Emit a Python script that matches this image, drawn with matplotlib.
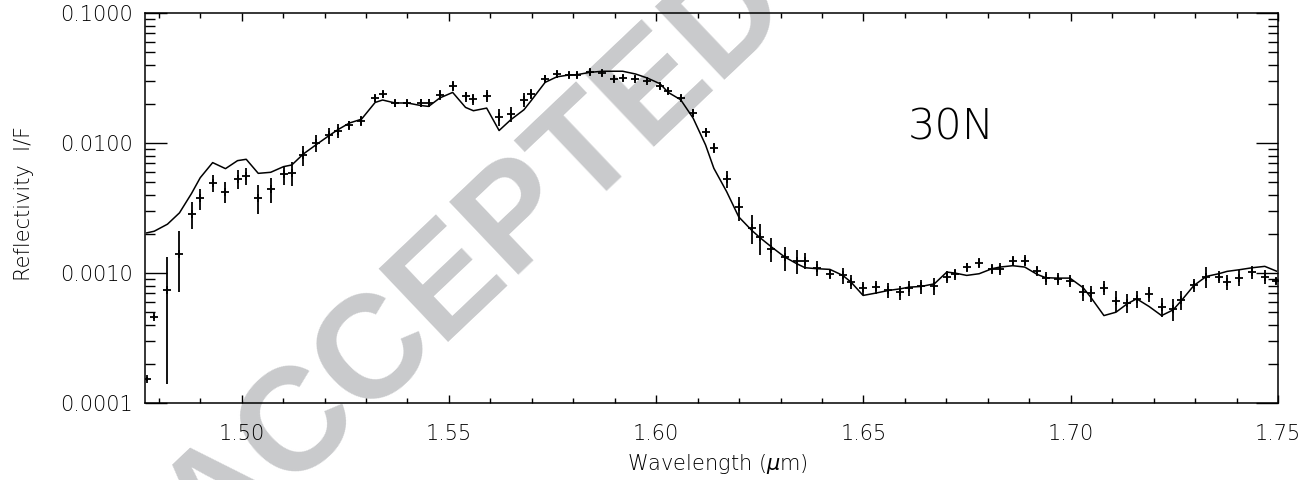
import matplotlib
matplotlib.use('Agg')
import matplotlib.pyplot as plt
from matplotlib.ticker import FixedLocator, MultipleLocator, LogLocator, NullFormatter, FuncFormatter

# wavelength grid (micron), observed reflectivity, 1-sigma error, model fit
wavelength = [1.4771, 1.4789, 1.4821, 1.4850, 1.4879, 1.4900, 1.4930, 1.4961, 1.4990, 1.5011,
              1.5040, 1.5070, 1.5101, 1.5121, 1.5149, 1.5179, 1.5211, 1.5232, 1.5260, 1.5289,
              1.5322, 1.5340, 1.5370, 1.5400, 1.5432, 1.5451, 1.5478, 1.5509, 1.5540, 1.5559,
              1.5591, 1.5621, 1.5649, 1.5681, 1.5699, 1.5732, 1.5760, 1.5789, 1.5809, 1.5840,
              1.5870, 1.5899, 1.5919, 1.5950, 1.5978, 1.6009, 1.6029, 1.6059, 1.6089, 1.6119,
              1.6139, 1.6170, 1.6199, 1.6230, 1.6250, 1.6278, 1.6310, 1.6339, 1.6359, 1.6388,
              1.6419, 1.6450, 1.6470, 1.6499, 1.6529, 1.6560, 1.6589, 1.6610, 1.6639, 1.6671,
              1.6701, 1.6721, 1.6749, 1.6779, 1.6810, 1.6829, 1.6860, 1.6889, 1.6919, 1.6940,
              1.6970, 1.6998, 1.7030, 1.7048, 1.7080, 1.7109, 1.7136, 1.7159, 1.7189, 1.7219,
              1.7247, 1.7267, 1.7297, 1.7327, 1.7357, 1.7377, 1.7407, 1.7438, 1.7468, 1.7496]

observed = [1.54e-4, 4.6e-4, 7.4e-4, 1.41e-3, 2.84e-3, 3.76e-3, 4.96e-3, 4.23e-3, 5.3e-3, 5.6e-3,
            3.8e-3, 4.44e-3, 5.76e-3, 5.9e-3, 8.1e-3, 1.01e-2, 1.15e-2, 1.25e-2, 1.38e-2, 1.49e-2,
            2.23e-2, 2.38e-2, 2.04e-2, 2.04e-2, 2.04e-2, 2.04e-2, 2.36e-2, 2.77e-2, 2.29e-2, 2.19e-2,
            2.32e-2, 1.59e-2, 1.68e-2, 2.16e-2, 2.40e-2, 3.12e-2, 3.41e-2, 3.37e-2, 3.37e-2, 3.53e-2,
            3.47e-2, 3.12e-2, 3.18e-2, 3.14e-2, 3.03e-2, 2.74e-2, 2.54e-2, 2.23e-2, 1.71e-2, 1.21e-2,
            9.25e-3, 5.33e-3, 3.20e-3, 2.23e-3, 1.88e-3, 1.54e-3, 1.32e-3, 1.24e-3, 1.25e-3, 1.10e-3,
            9.9e-4, 9.6e-4, 8.6e-4, 7.7e-4, 7.8e-4, 7.4e-4, 7.1e-4, 7.7e-4, 7.9e-4, 8.0e-4,
            9.4e-4, 9.8e-4, 1.11e-3, 1.20e-3, 1.08e-3, 1.08e-3, 1.24e-3, 1.25e-3, 1.04e-3, 9.2e-4,
            9.05e-4, 8.7e-4, 7.1e-4, 7.0e-4, 7.7e-4, 6.15e-4, 5.9e-4, 6.3e-4, 6.9e-4, 5.5e-4,
            5.3e-4, 6.2e-4, 8.1e-4, 9.4e-4, 9.4e-4, 8.6e-4, 9.2e-4, 1.02e-3, 9.4e-4, 8.7e-4]

sigma = [5e-6, 1.5e-5, 6.0e-4, 7.0e-4, 6.6e-4, 6.8e-4, 7.2e-4, 7.7e-4, 8.8e-4, 8.2e-4,
         9.6e-4, 1.0e-3, 9.6e-4, 1.23e-3, 1.41e-3, 1.47e-3, 1.6e-3, 1.58e-3, 1.1e-3, 1.39e-3,
         1.36e-3, 1.6e-3, 1.25e-3, 1.25e-3, 1.5e-3, 1.5e-3, 2.2e-3, 2.6e-3, 2.1e-3, 2.2e-3,
         2.6e-3, 2.4e-3, 2.3e-3, 2.7e-3, 2.2e-3, 2.1e-3, 2.1e-3, 1.8e-3, 1.8e-3, 1.8e-3,
         1.6e-3, 1.6e-3, 1.6e-3, 1.4e-3, 1.4e-3, 1.3e-3, 1.3e-3, 1.2e-3, 1.2e-3, 1.0e-3,
         8e-4, 7.8e-4, 6.7e-4, 5.6e-4, 5.0e-4, 3.3e-4, 2.75e-4, 2.6e-4, 1.8e-4, 1.5e-4,
         9e-5, 1.4e-4, 1.1e-4, 8.7e-5, 8.5e-5, 9.8e-5, 9e-5, 1.0e-4, 9.9e-5, 1.17e-4,
         1.07e-4, 1.0e-4, 8.3e-5, 1.0e-4, 1.0e-4, 1.15e-4, 1.15e-4, 1.17e-4, 9.7e-5, 1.04e-4,
         1.02e-4, 9.2e-5, 1.04e-4, 1.02e-4, 9.7e-5, 1.11e-4, 9.8e-5, 9.3e-5, 8.7e-5, 9.2e-5,
         1.04e-4, 1.04e-4, 9.2e-5, 1.71e-4, 1.07e-4, 1.15e-4, 1.28e-4, 1.15e-4, 1.19e-4, 5e-5]

model = [2.04e-3, 2.10e-3, 2.38e-3, 2.91e-3, 4.10e-3, 5.42e-3, 7.09e-3, 6.37e-3, 7.34e-3, 7.52e-3,
         5.86e-3, 5.97e-3, 6.60e-3, 6.80e-3, 8.27e-3, 9.70e-3, 1.145e-2, 1.27e-2, 1.43e-2, 1.53e-2,
         2.06e-2, 2.15e-2, 2.04e-2, 2.04e-2, 1.95e-2, 1.92e-2, 2.23e-2, 2.46e-2, 1.886e-2, 1.778e-2,
         1.863e-2, 1.252e-2, 1.514e-2, 1.81e-2, 2.14e-2, 2.94e-2, 3.24e-2, 3.35e-2, 3.37e-2, 3.51e-2,
         3.58e-2, 3.58e-2, 3.58e-2, 3.41e-2, 3.18e-2, 2.87e-2, 2.46e-2, 2.16e-2, 1.56e-2, 9.7e-3,
         6.41e-3, 4.23e-3, 2.71e-3, 2.14e-3, 1.877e-3, 1.59e-3, 1.33e-3, 1.181e-3, 1.10e-3, 1.081e-3,
         1.068e-3, 9.6e-4, 8.52e-4, 6.73e-4, 7.01e-4, 7.35e-4, 7.57e-4, 7.80e-4, 7.89e-4, 8.27e-4,
         1.019e-3, 1.0e-3, 9.6e-4, 9.89e-4, 1.081e-3, 1.113e-3, 1.14e-3, 1.113e-3, 9.77e-4, 9.21e-4,
         9.15e-4, 9.15e-4, 7.71e-4, 6.53e-4, 4.71e-4, 5.0e-4, 5.8e-4, 6.34e-4, 5.53e-4, 4.71e-4,
         5.21e-4, 6.15e-4, 8.03e-4, 9.43e-4, 9.89e-4, 1.031e-3, 1.062e-3, 1.10e-3, 1.127e-3, 1.036e-3]

x_ticks = [1.50, 1.55, 1.60, 1.65, 1.70, 1.75]
y_ticks = [1e-4, 1e-3, 1e-2, 1e-1]
y_tick_labels = ['0.0001', '0.0010', '0.0100', '0.1000']
region_label = '30N'

plt.rcParams['font.family'] = 'DejaVu Sans'
plt.rcParams['font.weight'] = 'light'
plt.rcParams['mathtext.fontset'] = 'dejavusans'

fig = plt.figure(figsize=(13.06, 4.8), dpi=100)
ax = fig.add_axes([0.1114, 0.1604, 0.8672, 0.8119])
ax.patch.set_facecolor('none')

# filigrane en fond
fig.text(476.5 / 1306, 1 - 259.5 / 480, 'ACCEPTED', rotation=43.5, rotation_mode='anchor',
         ha='center', va='center', fontsize=105, fontweight='bold',
         family='Liberation Sans', color='#c9cacc', zorder=-1)

ax.plot(wavelength, model, '-', color='black', lw=1.1, zorder=3)
ax.errorbar(wavelength, observed, yerr=sigma, fmt='+', color='black',
            ms=6, mew=1.3, elinewidth=1.3, capsize=0, zorder=4)

ax.set_yscale('log')
ax.set_xlim(1.4768, 1.75)
ax.set_ylim(1e-4, 1e-1)

ax.xaxis.set_major_locator(FixedLocator(x_ticks))
ax.xaxis.set_minor_locator(MultipleLocator(0.01))
ax.xaxis.set_major_formatter(FuncFormatter(lambda v, p: f'{v:.2f}'))
ax.yaxis.set_major_locator(FixedLocator(y_ticks))
ax.set_yticklabels(y_tick_labels)
ax.yaxis.set_minor_locator(LogLocator(base=10, subs=range(2, 10)))
ax.yaxis.set_minor_formatter(NullFormatter())

ax.tick_params(axis='y', which='major', direction='in', length=16, width=1,
               left=True, right=True, pad=9, labelsize=15)
ax.tick_params(axis='y', which='minor', direction='in', length=7.5, width=1,
               left=True, right=True)
ax.tick_params(axis='x', which='major', direction='in', length=6, width=1,
               top=True, bottom=True, pad=15, labelsize=15)
ax.tick_params(axis='x', which='minor', direction='in', length=3.3, width=1,
               top=True, bottom=True)
for s in ax.spines.values():
    s.set_linewidth(1.1)

fig.text(717 / 1306, 1 - 464 / 480, 'Wavelength ($\\mu$m)', ha='center', va='center', fontsize=15)
fig.text(24 / 1306, 1 - 203.5 / 480, 'Reflectivity  I/F', rotation=90,
         ha='center', va='center', fontsize=15)

ax.text(1.6711, 0.01324, region_label, ha='center', va='center', fontsize=31)

fig.savefig('out.png', dpi=100)
